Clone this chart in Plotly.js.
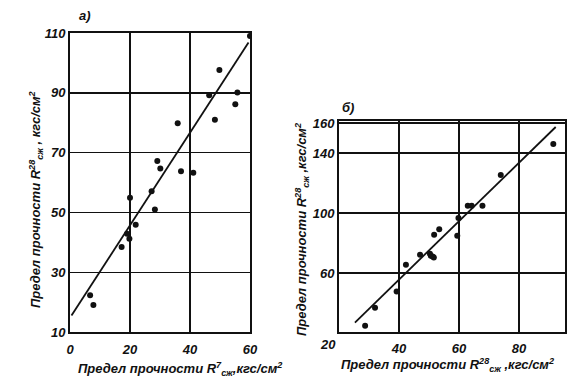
<!DOCTYPE html>
<html><head><meta charset="utf-8">
<script src="https://cdn.plot.ly/plotly-3.0.1.min.js"></script>
<style>html,body{margin:0;padding:0;background:#fff}</style>
</head><body><div id="chart" style="width:574px;height:389px"></div>
<script>
// Panel a: R7 vs R28
const aX = [60, 49.8, 46.4, 55.8, 55.1, 48.3, 35.9, 29.1, 30.1, 37, 41.1, 27.2, 20, 28.3, 21.9, 19, 19.8, 17.2, 6.7, 7.8];
const aY = [109, 97.6, 89.2, 90.1, 86.2, 81, 79.8, 67.2, 64.7, 63.8, 63.3, 57.1, 54.9, 51, 45.9, 42.9, 41.2, 38.4, 22.3, 19];
const aFitX = [0.5, 59.5];
const aFitY = [15.5, 106.8];
// Panel b
const bX = [91.4, 73.9, 62.9, 64.2, 67.8, 59.8, 59.4, 53.4, 51.7, 47, 50.3, 51.2, 51.6, 50.6, 42.3, 39.2, 32, 28.7];
const bY = [146, 125.3, 104.9, 104.9, 104.9, 96.7, 84.9, 89.3, 85.5, 72.2, 72.9, 71.1, 70.4, 71.6, 65.5, 47.8, 37, 24.9];
const bFitX = [25.3, 92.2];
const bFitY = [27.1, 157.3];
const aXTicks = [0, 20, 40, 60];
const aYTicks = [10, 30, 50, 70, 90, 110];
const bXTicks = [40, 60, 80];
const bYTicks = [60, 100, 140, 160];

const F = {family: 'Liberation Sans, Arial, sans-serif', size: 13, color: '#111', style: 'italic', weight: 'bold'};
const mk = {color: '#111', size: 6};
const data = [
  {x: aX, y: aY, mode: 'markers', marker: mk, xaxis: 'x', yaxis: 'y', hoverinfo: 'none'},
  {x: aFitX, y: aFitY, mode: 'lines', line: {color: '#111', width: 1.8}, xaxis: 'x', yaxis: 'y'},
  {x: bX, y: bY, mode: 'markers', marker: mk, xaxis: 'x2', yaxis: 'y2'},
  {x: bFitX, y: bFitY, mode: 'lines', line: {color: '#111', width: 1.8}, xaxis: 'x2', yaxis: 'y2'}
];
const ax = (o) => Object.assign({
  showline: true, mirror: true, linecolor: '#111', linewidth: 2,
  showgrid: true, gridcolor: '#111', gridwidth: 1.4, zeroline: false,
  ticks: '', tickfont: F, fixedrange: true
}, o);
const layout = {
  width: 574, height: 389, showlegend: false,
  margin: {l: 0, r: 0, t: 0, b: 0},
  paper_bgcolor: '#fff', plot_bgcolor: '#fff',
  xaxis: ax({domain: [70/574, 250/574], range: [0, 60], tickvals: aXTicks, anchor: 'y', ticklabelstandoff: 4}),
  yaxis: ax({domain: [1-332/389, 1-33/389], range: [10, 110], tickvals: aYTicks, anchor: 'x'}),
  xaxis2: ax({domain: [339/574, 565/574], range: [20, 95.3], tickvals: bXTicks, anchor: 'y2', ticklabelstandoff: 4}),
  yaxis2: ax({domain: [1-331.7/389, 1-120.7/389], range: [21, 161.5], tickvals: bYTicks, anchor: 'x2'}),
  annotations: [
    {text: 'а)', x: 77, y: 389-15, xref: 'paper', yref: 'paper', showarrow: false, font: F, xanchor: 'left', yanchor: 'middle'},
    {text: 'б)', x: 340, y: 389-107, showarrow: false, font: F, xanchor: 'left', yanchor: 'middle'},
    {text: '20', x: 328, y: 389-344, showarrow: false, font: F, xanchor: 'center', yanchor: 'middle'},
    {text: 'Предел прочности R<sup>7</sup><sub>сж</sub>,кгс/см<sup>2</sup>', x: 180, y: 389-369, showarrow: false, font: F, xanchor: 'center', yanchor: 'middle'},
    {text: 'Предел прочности R<sup>28</sup><sub>сж</sub> , кгс/см<sup>2</sup>', x: 36, y: 389-200, showarrow: false, font: F, textangle: -90, xanchor: 'center', yanchor: 'middle'},
    {text: 'Предел прочности R<sup>28</sup><sub>сж</sub> ,кгс/см<sup>2</sup>', x: 447, y: 389-365, showarrow: false, font: F, xanchor: 'center', yanchor: 'middle'},
    {text: 'Предел прочности R<sup>28</sup><sub>сж</sub> ,кгс/см<sup>2</sup>', x: 302, y: 389-230, showarrow: false, font: F, textangle: -90, xanchor: 'center', yanchor: 'middle'}
  ].map(a => Object.assign({xref: 'paper', yref: 'paper'}, a, {x: a.x/574, y: a.y/389}))
};
Plotly.newPlot('chart', data, layout, {staticPlot: true});
</script></body></html>
